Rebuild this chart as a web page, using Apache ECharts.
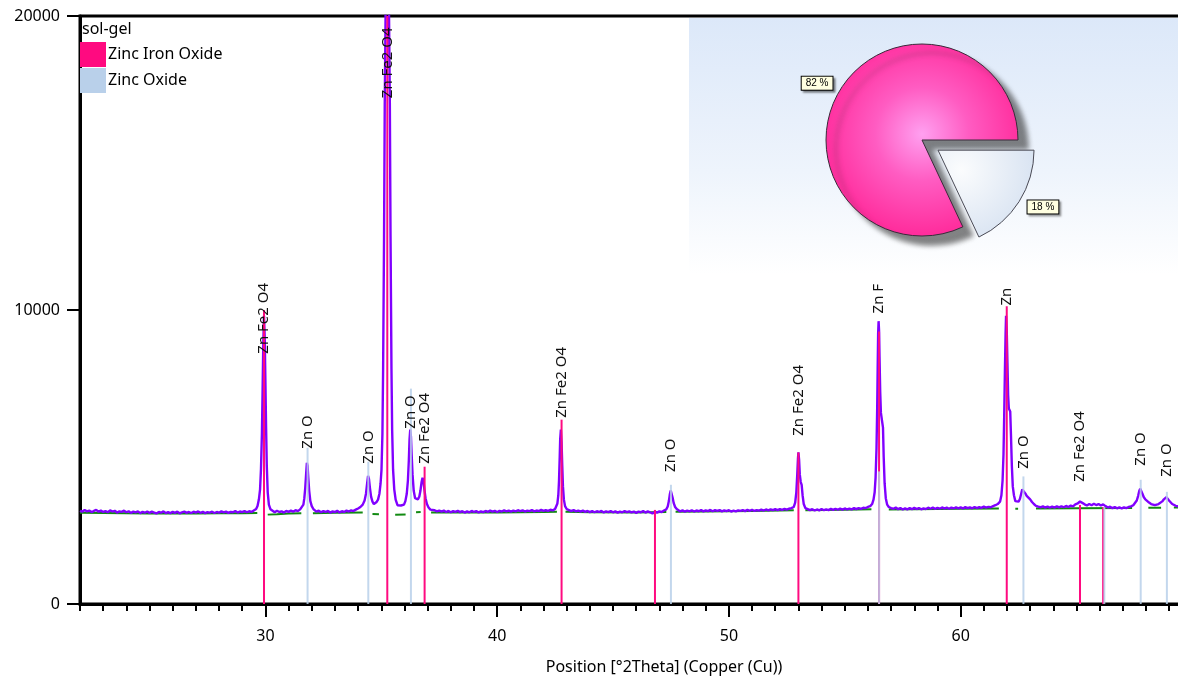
<!DOCTYPE html>
<html>
<head>
<meta charset="utf-8">
<script src="https://cdn.jsdelivr.net/npm/echarts@6/dist/echarts.min.js"></script>
<style>html,body{margin:0;padding:0;background:#fff;overflow:hidden}#c{width:1248px;height:680px}</style>
</head>
<body>
<div id="c"></div>
<script>
// ---------- data ----------
const sampleName = 'sol-gel';
const phaseNames = ['Zinc Iron Oxide', 'Zinc Oxide'];
const phasePct = [82, 18];
const xTickValues = [30, 40, 50, 60, 70];
const yTickValues = [0, 10000, 20000];

// observed pattern [2theta, counts]
const profile = [
[22.0,3170],[22.1,3140],[22.2,3195],[22.3,3150],[22.4,3180],[22.5,3125],[22.6,3165],[22.7,3200],[22.8,3140],[22.9,3175],
[23.0,3130],[23.1,3160],[23.2,3120],[23.3,3185],[23.4,3145],[23.5,3170],[23.6,3110],[23.7,3150],[23.8,3135],[23.9,3175],
[24.0,3120],[24.1,3155],[24.2,3100],[24.3,3140],[24.4,3115],[24.5,3150],[24.6,3090],[24.7,3135],[24.8,3105],[24.9,3145],
[25.0,3100],[25.1,3140],[25.2,3110],[25.3,3080],[25.4,3130],[25.5,3105],[25.6,3150],[25.7,3095],[25.8,3125],[25.9,3090],
[26.0,3135],[26.1,3100],[26.2,3140],[26.3,3085],[26.4,3120],[26.5,3145],[26.6,3100],[26.7,3130],[26.8,3095],[26.9,3140],
[27.0,3110],[27.1,3150],[27.2,3100],[27.3,3135],[27.4,3090],[27.5,3125],[27.6,3110],[27.7,3140],[27.8,3095],[27.9,3130],
[28.0,3105],[28.1,3150],[28.2,3115],[28.3,3140],[28.4,3100],[28.5,3135],[28.6,3120],[28.7,3160],[28.8,3110],[28.9,3145],
[29.0,3125],[29.1,3165],[29.2,3120],[29.3,3155],[29.4,3130],[29.5,3180],
[29.6,3230],[29.66,3330],[29.72,3560],[29.77,3900],[29.81,4600],[29.85,5800],[29.88,7300],[29.91,8900],[29.94,9800],[29.97,9100],
[30.0,7600],[30.03,6000],[30.06,4700],[30.1,3800],[30.15,3380],[30.22,3220],[30.3,3160],
[30.4,3120],[30.5,3170],[30.6,3130],[30.7,3150],[30.8,3110],[30.9,3165],[31.0,3135],[31.1,3175],[31.2,3140],[31.3,3190],[31.4,3160],[31.5,3220],
[31.58,3260],[31.64,3380],[31.68,3600],[31.72,3950],[31.76,4450],[31.79,4800],[31.82,4700],[31.85,4300],[31.89,3850],[31.94,3500],[32.0,3330],[32.07,3230],[32.15,3170],
[32.2,3140],[32.3,3175],[32.4,3120],[32.5,3160],[32.6,3130],[32.7,3165],[32.8,3110],[32.9,3150],[33.0,3125],[33.1,3170],
[33.2,3115],[33.3,3155],[33.4,3130],[33.5,3175],[33.6,3145],[33.7,3185],[33.8,3160],[33.9,3210],[34.0,3250],[34.1,3300],
[34.2,3380],[34.28,3520],[34.34,3750],[34.39,4100],[34.43,4360],[34.47,4250],[34.51,3950],[34.56,3650],[34.62,3480],[34.68,3400],[34.74,3430],[34.8,3470],
[34.86,3550],[34.92,3750],[34.97,4100],[35.01,4560],[35.05,5800],[35.08,8000],[35.12,12500],[35.15,17000],[35.185,20000],[35.26,30000],
[35.335,20000],[35.37,17000],[35.40,12500],[35.44,8000],[35.47,5900],[35.51,4560],[35.56,3900],[35.62,3550],
[35.7,3360],[35.78,3300],[35.85,3350],[35.92,3290],[35.98,3380],[36.04,3500],[36.1,3750],[36.15,4200],[36.19,4900],[36.22,5600],[36.25,5930],
[36.28,5700],[36.31,5100],[36.35,4400],[36.4,3850],[36.46,3600],[36.52,3540],[36.58,3560],[36.64,3650],[36.69,3850],[36.74,4150],[36.78,4290],
[36.82,4200],[36.86,3900],[36.91,3600],[36.97,3400],[37.04,3280],[37.12,3210],[37.2,3170],
[37.3,3190],[37.4,3150],[37.5,3180],[37.6,3140],[37.7,3175],[37.8,3130],[37.9,3165],[38.0,3120],[38.1,3160],[38.2,3135],
[38.3,3170],[38.4,3125],[38.5,3155],[38.6,3110],[38.7,3150],[38.8,3120],[38.9,3165],[39.0,3130],[39.1,3160],[39.2,3115],
[39.3,3150],[39.4,3125],[39.5,3165],[39.6,3135],[39.7,3175],[39.8,3140],[39.9,3170],[40.0,3130],[40.1,3165],[40.2,3145],
[40.3,3185],[40.4,3150],[40.5,3175],[40.6,3140],[40.7,3180],[40.8,3150],[40.9,3190],[41.0,3155],[41.1,3185],[41.2,3145],
[41.3,3175],[41.4,3160],[41.5,3195],[41.6,3150],[41.7,3180],[41.8,3160],[41.9,3200],[42.0,3165],[42.1,3190],[42.2,3170],
[42.3,3205],[42.4,3185],[42.5,3230],
[42.55,3280],[42.6,3420],[42.64,3700],[42.67,4200],[42.7,5000],[42.72,5600],[42.75,5930],[42.78,5500],[42.81,4700],[42.84,4000],
[42.88,3550],[42.93,3330],[43.0,3230],[43.08,3190],
[43.2,3160],[43.3,3195],[43.4,3150],[43.5,3180],[43.6,3140],[43.7,3175],[43.8,3135],[43.9,3165],[44.0,3125],[44.1,3160],
[44.2,3120],[44.3,3155],[44.4,3130],[44.5,3165],[44.6,3115],[44.7,3150],[44.8,3125],[44.9,3160],[45.0,3120],[45.1,3150],
[45.2,3110],[45.3,3145],[45.4,3120],[45.5,3160],[45.6,3125],[45.7,3150],[45.8,3115],[45.9,3145],[46.0,3100],[46.1,3140],
[46.2,3120],[46.3,3160],[46.4,3110],[46.5,3150],[46.6,3120],[46.7,3080],[46.8,3140],[46.9,3110],[47.0,3150],[47.1,3130],[47.2,3180],
[47.3,3220],[47.36,3320],[47.41,3500],[47.45,3720],[47.49,3860],[47.53,3800],[47.57,3620],[47.62,3430],[47.68,3300],[47.75,3230],[47.82,3180],
[47.9,3150],[48.0,3185],[48.1,3140],[48.2,3175],[48.3,3150],[48.4,3190],[48.5,3145],[48.6,3180],[48.7,3155],[48.8,3195],
[48.9,3150],[49.0,3185],[49.1,3160],[49.2,3200],[49.3,3155],[49.4,3190],[49.5,3165],[49.6,3195],[49.7,3150],[49.8,3185],
[49.9,3160],[50.0,3190],[50.1,3145],[50.2,3175],[50.3,3150],[50.4,3185],[50.5,3165],[50.6,3195],[50.7,3160],[50.8,3200],
[50.9,3170],[51.0,3205],[51.1,3165],[51.2,3195],[51.3,3175],[51.4,3210],[51.5,3180],[51.6,3215],[51.7,3185],[51.8,3220],
[51.9,3190],[52.0,3225],[52.1,3195],[52.2,3230],[52.3,3200],[52.4,3235],[52.5,3210],[52.6,3240],[52.7,3260],
[52.8,3300],[52.86,3450],[52.91,3800],[52.95,4400],[52.98,4950],[53.0,5155],[53.03,4900],[53.06,4400],[53.1,4150],[53.14,4050],
[53.18,3700],[53.23,3400],[53.3,3260],[53.38,3220],
[53.5,3190],[53.6,3225],[53.7,3180],[53.8,3215],[53.9,3185],[54.0,3230],[54.1,3190],[54.2,3220],[54.3,3195],[54.4,3235],
[54.5,3200],[54.6,3240],[54.7,3205],[54.8,3245],[54.9,3210],[55.0,3250],[55.1,3215],[55.2,3245],[55.3,3220],[55.4,3260],
[55.5,3225],[55.6,3265],[55.7,3235],[55.8,3275],[55.9,3260],[56.0,3300],[56.1,3330],
[56.18,3400],[56.24,3550],[56.29,3800],[56.33,4300],[56.37,5300],[56.4,6700],[56.42,8000],[56.44,9200],[56.46,9620],[56.48,9300],
[56.5,8400],[56.53,7200],[56.56,6500],[56.59,6450],[56.62,6500],[56.65,6000],[56.68,5000],[56.72,4100],[56.77,3600],[56.83,3380],[56.9,3300],[57.0,3260],
[57.1,3240],[57.2,3280],[57.3,3225],[57.4,3265],[57.5,3215],[57.6,3250],[57.7,3220],[57.8,3260],[57.9,3225],[58.0,3270],
[58.1,3230],[58.2,3265],[58.3,3220],[58.4,3255],[58.5,3230],[58.6,3275],[58.7,3240],[58.8,3280],[58.9,3235],[59.0,3270],
[59.1,3240],[59.2,3285],[59.3,3245],[59.4,3275],[59.5,3240],[59.6,3280],[59.7,3250],[59.8,3290],[59.9,3255],[60.0,3285],
[60.1,3250],[60.2,3295],[60.3,3260],[60.4,3290],[60.5,3255],[60.6,3300],[60.7,3265],[60.8,3295],[60.9,3270],[61.0,3310],
[61.1,3275],[61.2,3305],[61.3,3290],[61.4,3330],[61.5,3360],[61.6,3400],
[61.7,3480],[61.76,3700],[61.81,4200],[61.85,5100],[61.88,6400],[61.91,7900],[61.94,9200],[61.96,9800],[61.99,9300],[62.02,8200],
[62.05,7100],[62.08,6650],[62.11,6590],[62.14,6550],[62.17,5800],[62.21,4700],[62.25,4000],[62.3,3700],[62.36,3500],[62.42,3440],
[62.5,3480],[62.56,3580],[62.61,3740],[62.66,3900],[62.7,3950],[62.74,3880],[62.79,3760],[62.85,3680],[62.92,3620],[63.0,3560],
[63.08,3470],[63.16,3400],[63.25,3340],[63.35,3310],
[63.45,3290],[63.55,3320],[63.65,3280],[63.75,3315],[63.85,3275],[63.95,3310],[64.05,3280],[64.15,3320],[64.25,3285],[64.35,3325],
[64.45,3290],[64.55,3335],[64.65,3300],[64.75,3345],[64.85,3320],[64.95,3390],[65.05,3420],[65.15,3485],[65.25,3440],[65.35,3390],
[65.45,3350],[65.55,3400],[65.65,3360],[65.75,3410],[65.85,3365],[65.95,3400],[66.05,3350],[66.15,3390],[66.25,3330],[66.35,3280],
[66.45,3310],[66.55,3260],[66.65,3300],[66.75,3255],[66.85,3290],[66.95,3250],[67.05,3285],[67.15,3260],[67.25,3300],[67.35,3320],
[67.45,3360],[67.53,3420],[67.6,3520],[67.66,3680],[67.71,3850],[67.75,3920],[67.79,3880],[67.84,3760],[67.9,3640],[67.97,3560],
[68.05,3520],[68.13,3450],[68.22,3400],[68.3,3370],[68.38,3360],[68.46,3380],[68.54,3400],[68.62,3440],[68.7,3490],[68.77,3560],
[68.83,3620],[68.88,3635],[68.93,3590],[68.99,3520],[69.06,3460],[69.13,3400],[69.2,3370],[69.28,3340],[69.36,3350],[69.44,3310],
[69.52,3330],[69.6,3300],[69.7,3320],[69.8,3290],[69.9,3315],[70.0,3300]
];

// fitted background (gaps where peaks are)
const background = [
[22,3100],[23,3095],[24,3085],[25,3080],[26,3075],[27,3080],[28,3085],[29,3090],[29.65,3095],[29.8,'-'],
[30.1,3040],[30.5,3055],[31.0,3080],[31.55,3090],[31.8,'-'],
[32.05,3085],[33,3100],[34.2,3110],[34.4,'-'],
[34.62,3060],[34.9,3050],[35.2,'-'],
[35.6,3035],[36.05,3045],[36.2,'-'],
[36.5,3120],[36.7,3130],[36.8,'-'],
[37.15,3110],[38,3110],[40,3115],[42,3130],[42.58,3140],[42.7,'-'],
[42.95,3140],[44,3120],[46,3110],[47.3,3130],[47.5,'-'],
[47.7,3140],[49,3150],[51,3165],[52.8,3185],[53.0,'-'],
[53.3,3190],[55,3210],[56.15,3225],[56.4,'-'],
[56.9,3215],[58,3225],[60,3240],[61.65,3245],[61.9,'-'],
[62.36,3240],[62.48,3240],[62.6,'-'],
[63.25,3250],[65,3260],[67.4,3265],[67.7,'-'],
[68.1,3270],[68.65,3275],[68.8,'-'],
[69.2,3280],[70,3285]
];

// reference sticks: Zinc Iron Oxide
const ironPos      = [29.94, 35.26, 36.87, 42.78, 46.81, 53.00, 56.48, 61.99, 65.15, 66.15];
const ironHeight   = [10000, 30000, 4670, 6270, 3200, 5155, 9270, 10130, 3370, 3300];
const ironLabel    = ['Zn Fe2 O4','Zn Fe2 O4','Zn Fe2 O4','Zn Fe2 O4','','Zn Fe2 O4','Zn F','Zn','Zn Fe2 O4',''];
const ironLabelAt  = [8480, 17170, 4740, 6300, null, 5690, 9850, 10120, 4120, null];

// reference sticks: Zinc Oxide
const zincPos      = [31.82, 34.44, 36.28, 47.50, 56.48, 62.71, 66.20, 67.77, 68.90];
const zincHeight   = [5315, 4840, 7325, 4055, 4510, 4340, 3300, 4225, 3815];
const zincLabel    = ['Zn O','Zn O','Zn O','Zn O','','Zn O','','Zn O','Zn O'];
const zincLabelAt  = [5250, 4740, 5930, 4460, null, 4565, null, 4670, 4290];

const minorTicks = [22,23,24,25,26,27,28,29,30,31,32,33,34,35,36,37,38,39,40,41,42,43,44,45,46,47,48,49,50,51,52,53,54,55,56,57,58,59,60,61,62,63,64,65,66,67,68,69,70,71,72];

// ---------- chart ----------
const MAGENTA = '#ff0a80';
const LIGHTBLUE = '#b9d0ea';
const FONT = '"Noto Sans", "Open Sans", sans-serif';

function stickData(pos, h, at) {
  return pos.map((p, i) => [p, h[i], at[i] == null ? '-' : at[i]]);
}

function makeStickRender(color, opacity, labels) {
  return function (params, api) {
    const x = api.value(0);
    const h = api.value(1);
    const at = api.value(2);
    const lbl = labels[params.dataIndex];
    const cs = params.coordSys;
    const p0 = api.coord([x, 0]);
    const p1 = api.coord([x, h]);
    const yTop = Math.max(p1[1], cs.y);
    const children = [{
      type: 'line',
      shape: { x1: p0[0], y1: p0[1], x2: p0[0], y2: yTop },
      style: { stroke: color, lineWidth: 2, opacity: opacity }
    }];
    if (lbl && !isNaN(at)) {
      const pl = api.coord([x, at]);
      children.push({
        type: 'text',
        x: pl[0], y: pl[1] - 1,
        rotation: Math.PI / 2,
        style: { text: lbl, fill: '#111', fontSize: 15, fontFamily: FONT, align: 'left', verticalAlign: 'middle' },
        z2: 10
      });
    }
    return { type: 'group', children: children };
  };
}

const chart = echarts.init(document.getElementById('c'), null, { renderer: 'canvas' });
const option = {
  animation: false,
  backgroundColor: '#fff',
  textStyle: { fontFamily: FONT },
  title: {
    text: sampleName, left: 82, top: 21, padding: 0,
    textStyle: { fontSize: 16, fontWeight: 'normal', color: '#000', fontFamily: FONT }
  },
  legend: {
    data: phaseNames, orient: 'vertical', left: 80, top: 42, padding: 0,
    itemWidth: 26, itemHeight: 25, itemGap: 1, icon: 'rect', selectedMode: false,
    textStyle: { fontSize: 16, color: '#000', fontFamily: FONT, padding: [0, 0, 0, -3] }
  },
  graphic: [{
    type: 'rect', z: 1, silent: true,
    shape: { x: 689, y: 18, width: 560, height: 256 },
    style: { fill: new echarts.graphic.LinearGradient(0, 0, 0, 1, [
      { offset: 0, color: '#dce8f9' }, { offset: 0.6, color: '#eef4fc' }, { offset: 1, color: '#ffffff' }]) }
  }],
  grid: {
    left: 80, right: 0, top: 16, bottom: 76,
    show: true, borderColor: '#000', borderWidth: 3, backgroundColor: 'transparent'
  },
  xAxis: [{
    type: 'value', min: 22, max: 72.4, position: 'bottom',
    name: 'Position [°2Theta] (Copper (Cu))', nameLocation: 'middle', nameGap: 55,
    nameTextStyle: { fontSize: 16, color: '#000', fontFamily: FONT },
    axisLine: { show: true, onZero: false, lineStyle: { color: '#000', width: 3 } },
    axisTick: { show: true, customValues: xTickValues, length: 13, lineStyle: { color: '#000', width: 2 } },
    axisLabel: { customValues: xTickValues, fontSize: 16, color: '#000', margin: 24, fontFamily: FONT },
    splitLine: { show: false }
  }, {
    type: 'value', min: 22, max: 72.4, position: 'bottom', offset: 0,
    axisLine: { show: false },
    axisTick: { show: true, customValues: minorTicks, length: 7, lineStyle: { color: '#000', width: 2 } },
    axisLabel: { show: false },
    splitLine: { show: false }
  }],
  yAxis: {
    type: 'value', min: 0, max: 20000, interval: 10000,
    axisLine: { show: true, onZero: false, lineStyle: { color: '#000', width: 3 } },
    axisTick: { show: true, length: 13, lineStyle: { color: '#000', width: 2 } },
    axisLabel: { fontSize: 16, color: '#000', margin: 20, fontFamily: FONT, formatter: v => String(v) },
    splitLine: { show: false }
  },
  series: [{
    name: 'background', type: 'line', data: background, showSymbol: false, symbol: 'none',
    lineStyle: { color: '#128a12', width: 2 }, z: 2, connectNulls: false, clip: true
  }, {
    name: 'observed', type: 'line', data: profile, showSymbol: false, symbol: 'none',
    lineStyle: { color: '#8000ff', width: 2.4 }, z: 3, clip: true
  }, {
    name: phaseNames[0], type: 'custom', renderItem: makeStickRender(MAGENTA, 1, ironLabel),
    data: stickData(ironPos, ironHeight, ironLabelAt),
    itemStyle: { color: MAGENTA }, z: 4, clip: true,
    encode: { x: 0, y: 1 }
  }, {
    name: phaseNames[1], type: 'custom', renderItem: makeStickRender(LIGHTBLUE, 0.85, zincLabel),
    data: stickData(zincPos, zincHeight, zincLabelAt),
    itemStyle: { color: LIGHTBLUE }, z: 5, clip: true,
    encode: { x: 0, y: 1 }
  }, {
    name: 'phases', type: 'pie', center: [922, 140], radius: 96, z: 6,
    startAngle: 0, clockwise: false,
    selectedMode: 'single', selectedOffset: 19,
    label: {
      show: true, position: 'outside', distanceToLabelLine: 0,
      formatter: p => p.value + ' %',
      fontSize: 10, fontFamily: '"Liberation Sans", Arial, sans-serif', color: '#000',
      backgroundColor: '#ffffe1', borderColor: '#000', borderWidth: 1, padding: [2, 4, 1, 4],
      shadowColor: 'rgba(0,0,0,0.35)', shadowOffsetX: 2, shadowOffsetY: 2, shadowBlur: 2
    },
    labelLine: { show: false, length: 10, length2: 0 },
    emphasis: { disabled: true },
    data: [{
      name: phaseNames[0], value: phasePct[0],
      itemStyle: {
        color: { type: 'radial', x: 922, y: 134, r: 104, global: true, colorStops: [
          { offset: 0, color: '#ffa0f0' }, { offset: 0.45, color: '#ff5cc2' }, { offset: 1, color: '#ff2a9a' }] },
        borderColor: '#3a2a3a', borderWidth: 1,
        shadowColor: 'rgba(50,50,50,0.6)', shadowBlur: 5, shadowOffsetX: 10, shadowOffsetY: 9
      }
    }, {
      name: phaseNames[1], value: phasePct[1], selected: true,
      itemStyle: {
        color: { type: 'radial', x: 945, y: 160, r: 100, global: true, colorStops: [
          { offset: 0, color: '#fbfcfd' }, { offset: 1, color: '#cddbee' }] },
        borderColor: '#4a4a55', borderWidth: 1
      }
    }]
  }]
};
chart.setOption(option);
</script>
</body>
</html>
